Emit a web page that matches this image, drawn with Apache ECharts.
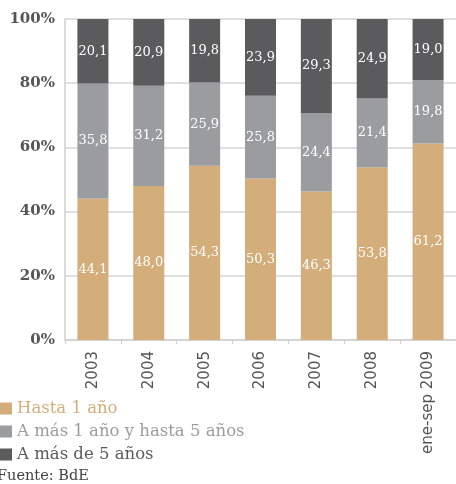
<!DOCTYPE html>
<html>
<head>
<meta charset="utf-8">
<script src="https://cdn.jsdelivr.net/npm/echarts@6/dist/echarts.min.js"></script>
<style>
  html, body { margin: 0; padding: 0; background: #fff; }
  #chart { width: 456px; height: 484px; }
</style>
</head>
<body>
<div id="chart"></div>
<script>
// categorías y valores (%)
const years = ["2003", "2004", "2005", "2006", "2007", "2008", "ene-sep 2009"];
const hasta1 = [44.1, 48.0, 54.3, 50.3, 46.3, 53.8, 61.2];
const de1a5 = [35.8, 31.2, 25.9, 25.8, 24.4, 21.4, 19.8];
const mas5 = [20.1, 20.9, 19.8, 23.9, 29.3, 24.9, 19.0];
const yTicks = [0, 20, 40, 60, 80, 100];

const COL_TAN = "#d3ad7a";
const COL_GREY = "#9b9c9f";
const COL_DARK = "#5b5b5d";
const SERIF = "DejaVu Serif";

const fmt = (p) => p.value.toFixed(1).replace(".", ",");

const makeSeries = (name, data, color) => ({
  name: name,
  type: "bar",
  stack: "total",
  data: data,
  barWidth: 31,
  itemStyle: { color: color },
  label: {
    show: true,
    position: "inside",
    formatter: fmt,
    color: "#fff",
    fontFamily: SERIF,
    fontSize: 13,
  },
});

const chart = echarts.init(document.getElementById("chart"));
chart.setOption({
  animation: false,
  grid: { left: 65, right: -11, top: 19, bottom: 144 },
  xAxis: {
    type: "category",
    data: years,
    axisLine: { lineStyle: { color: "#cfcfcf", width: 1.5 } },
    axisTick: { show: true, length: 4, lineStyle: { color: "#cfcfcf" } },
    axisLabel: {
      rotate: 90,
      margin: 11,
      color: "#555",
      fontFamily: "DejaVu Sans",
      fontSize: 15,
    },
  },
  yAxis: {
    type: "value",
    min: yTicks[0],
    max: yTicks[yTicks.length - 1],
    interval: 20,
    axisLine: { show: true, lineStyle: { color: "#cfcfcf", width: 1.5 } },
    axisTick: { show: false },
    splitLine: { lineStyle: { color: "#d6d6d6", width: 1.5 } },
    axisLabel: {
      margin: 10,
      formatter: "{value}%",
      color: "#555",
      fontFamily: SERIF,
      fontWeight: "bold",
      fontSize: 15,
    },
  },
  legend: {
    orient: "vertical",
    left: 0,
    top: 400,
    padding: 0,
    icon: "rect",
    itemWidth: 12,
    itemHeight: 12,
    itemGap: 6,
    textStyle: { fontFamily: SERIF, fontSize: 16.5 },
    data: [
      { name: "Hasta 1 año", textStyle: { color: COL_TAN } },
      { name: "A más 1 año y hasta 5 años", textStyle: { color: COL_GREY } },
      { name: "A más de 5 años", textStyle: { color: COL_DARK } },
    ],
  },
  graphic: [
    {
      type: "text",
      left: -3,
      top: 469,
      style: {
        text: "Fuente: BdE",
        fill: "#444",
        font: "14.5px 'DejaVu Serif'",
      },
    },
  ],
  series: [
    makeSeries("Hasta 1 año", hasta1, COL_TAN),
    makeSeries("A más 1 año y hasta 5 años", de1a5, COL_GREY),
    makeSeries("A más de 5 años", mas5, COL_DARK),
  ],
});
</script>
</body>
</html>
